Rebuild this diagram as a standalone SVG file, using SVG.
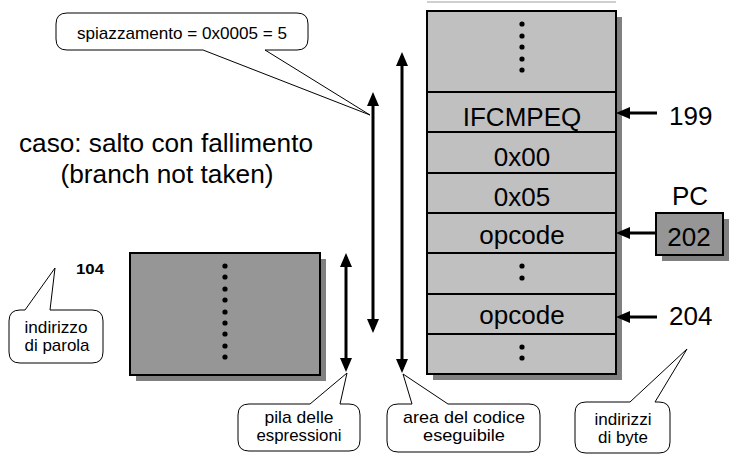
<svg xmlns="http://www.w3.org/2000/svg" width="734" height="455" viewBox="0 0 734 455">
  <style>
    text { font-family: "Liberation Sans", Arial, sans-serif; fill: #000; }
    .big { font-size: 26px; text-anchor: middle; }
    .num { font-size: 26px; }
    .title { font-size: 25px; text-anchor: middle; }
    .note { font-size: 17px; text-anchor: middle; }
    .tag { font-size: 14px; font-weight: bold; }
    .shadow { fill: #808080; }
    .cell { fill: #C0C0C0; }
    .dark { fill: #969696; stroke: #000; stroke-width: 2; }
    .sep { stroke: #000; stroke-width: 2; }
    .callout { fill: #fff; stroke: #000; stroke-width: 1; }
    .arrow { fill: none; stroke: #000; stroke-width: 3; }
    .dot { fill: #000; }
  </style>
  <defs>
    <marker id="head" viewBox="0 0 14 12" refX="10" refY="6" markerWidth="14" markerHeight="12" markerUnits="userSpaceOnUse" orient="auto-start-reverse">
      <path d="M0,0 L14,6 L0,12 Z" fill="#000"/>
    </marker>
  </defs>

  <rect width="734" height="455" fill="#fff"/>

  <!-- thin rule above the code area -->
  <line x1="427" y1="2" x2="616" y2="2" stroke="#A0A0A0" stroke-width="1"/>

  <!-- code area: byte cells -->
  <g id="code-area">
    <rect class="shadow" x="433" y="17" width="189" height="363"/>
    <rect class="cell" x="427" y="11" width="189" height="363"/>
    <g id="cell-top">
      <circle class="dot" cx="522" cy="24" r="2.6"/>
      <circle class="dot" cx="522" cy="36" r="2.6"/>
      <circle class="dot" cx="522" cy="47" r="2.6"/>
      <circle class="dot" cx="522" cy="59" r="2.6"/>
      <circle class="dot" cx="522" cy="70" r="2.6"/>
    </g>
    <g id="cell-199"><text class="big" x="522" y="126">IFCMPEQ</text></g>
    <g id="cell-200"><text class="big" x="522" y="166">0x00</text></g>
    <g id="cell-201"><text class="big" x="522" y="206">0x05</text></g>
    <g id="cell-202"><text class="big" x="522" y="244">opcode</text></g>
    <g id="cell-203">
      <circle class="dot" cx="522" cy="266" r="2.6"/>
      <circle class="dot" cx="522" cy="278" r="2.6"/>
    </g>
    <g id="cell-204"><text class="big" x="522" y="324">opcode</text></g>
    <g id="cell-bottom">
      <circle class="dot" cx="522" cy="347" r="2.6"/>
      <circle class="dot" cx="522" cy="358" r="2.6"/>
    </g>
    <line class="sep" x1="427" y1="92" x2="616" y2="92"/>
    <line class="sep" x1="427" y1="132" x2="616" y2="132"/>
    <line class="sep" x1="427" y1="173" x2="616" y2="173"/>
    <line class="sep" x1="427" y1="213" x2="616" y2="213"/>
    <line class="sep" x1="427" y1="253" x2="616" y2="253"/>
    <line class="sep" x1="427" y1="294" x2="616" y2="294"/>
    <line class="sep" x1="427" y1="334" x2="616" y2="334"/>
    <rect x="427" y="11" width="189" height="363" fill="none" stroke="#000" stroke-width="2"/>
  </g>

  <!-- expression stack -->
  <g id="stack">
    <rect class="shadow" x="136" y="259" width="190" height="122"/>
    <rect class="dark" x="130" y="253" width="190" height="122"/>
    <circle class="dot" cx="225" cy="266" r="2.6"/>
    <circle class="dot" cx="225" cy="277" r="2.6"/>
    <circle class="dot" cx="225" cy="289" r="2.6"/>
    <circle class="dot" cx="225" cy="300" r="2.6"/>
    <circle class="dot" cx="225" cy="312" r="2.6"/>
    <circle class="dot" cx="225" cy="323" r="2.6"/>
    <circle class="dot" cx="225" cy="334" r="2.6"/>
    <circle class="dot" cx="225" cy="346" r="2.6"/>
    <circle class="dot" cx="225" cy="357" r="2.6"/>
  </g>

  <!-- program counter -->
  <g id="pc">
    <text class="num" x="690" y="205" text-anchor="middle">PC</text>
    <rect class="shadow" x="662" y="219" width="67" height="42"/>
    <rect class="dark" x="656" y="213" width="67" height="42"/>
    <text class="num" x="689" y="246" text-anchor="middle">202</text>
  </g>

  <g id="addr-199"><text class="num" x="669" y="125">199</text></g>
  <g id="addr-204"><text class="num" x="669" y="325">204</text></g>
  <g id="addr-104"><text class="tag" x="76" y="274" textLength="28" lengthAdjust="spacingAndGlyphs">104</text></g>

  <g id="caption">
    <text class="title" x="166" y="152" textLength="294" lengthAdjust="spacingAndGlyphs">caso: salto con fallimento</text>
    <text class="title" x="167" y="183" textLength="213" lengthAdjust="spacingAndGlyphs">(branch not taken)</text>
  </g>

  <!-- connectors -->
  <g id="connectors">
    <path class="arrow" d="M657,113 H620" marker-end="url(#head)"/>
    <path class="arrow" d="M656,233 H620" marker-end="url(#head)"/>
    <path class="arrow" d="M657,317 H620" marker-end="url(#head)"/>
    <path class="arrow" d="M373,96 V329" marker-start="url(#head)" marker-end="url(#head)"/>
    <path class="arrow" d="M402,56 V369" marker-start="url(#head)" marker-end="url(#head)"/>
    <path class="arrow" d="M346,257 V368" marker-start="url(#head)" marker-end="url(#head)"/>
  </g>

  <!-- callouts -->
  <g id="callout-offset">
    <path class="callout" d="M67,13 H297 Q308,13 308,24 V39 Q308,50 297,50 H265 L370,115 L203,50 H67 Q56,50 56,39 V24 Q56,13 67,13 Z"/>
    <text class="note" x="182" y="39" textLength="210" lengthAdjust="spacingAndGlyphs">spiazzamento = 0x0005 = 5</text>
  </g>
  <g id="callout-word">
    <path class="callout" d="M20,310 H25 L55,268 L50,310 H92 Q103,310 103,321 V352 Q103,363 92,363 H20 Q9,363 9,352 V321 Q9,310 20,310 Z"/>
    <text class="note" x="56" y="333" textLength="63" lengthAdjust="spacingAndGlyphs">indirizzo</text>
    <text class="note" x="57" y="351" textLength="65" lengthAdjust="spacingAndGlyphs">di parola</text>
  </g>
  <g id="callout-stack">
    <path class="callout" d="M249,404 H310 L347,373 L340,404 H349 Q360,404 360,415 V440 Q360,451 349,451 H249 Q238,451 238,440 V415 Q238,404 249,404 Z"/>
    <text class="note" x="299" y="423" textLength="69" lengthAdjust="spacingAndGlyphs">pila delle</text>
    <text class="note" x="299" y="441" textLength="85" lengthAdjust="spacingAndGlyphs">espressioni</text>
  </g>
  <g id="callout-code">
    <path class="callout" d="M398,404 H412 L403,374 L448,404 H529 Q540,404 540,415 V441 Q540,452 529,452 H398 Q387,452 387,441 V415 Q387,404 398,404 Z"/>
    <text class="note" x="464" y="423" textLength="122" lengthAdjust="spacingAndGlyphs">area del codice</text>
    <text class="note" x="464" y="441" textLength="82" lengthAdjust="spacingAndGlyphs">eseguibile</text>
  </g>
  <g id="callout-byte">
    <path class="callout" d="M586,402 H630 L687,349 L655,402 H659 Q670,402 670,413 V442 Q670,453 659,453 H586 Q575,453 575,442 V413 Q575,402 586,402 Z"/>
    <text class="note" x="623" y="425" textLength="57" lengthAdjust="spacingAndGlyphs">indirizzi</text>
    <text class="note" x="623" y="443" textLength="50" lengthAdjust="spacingAndGlyphs">di byte</text>
  </g>
</svg>
